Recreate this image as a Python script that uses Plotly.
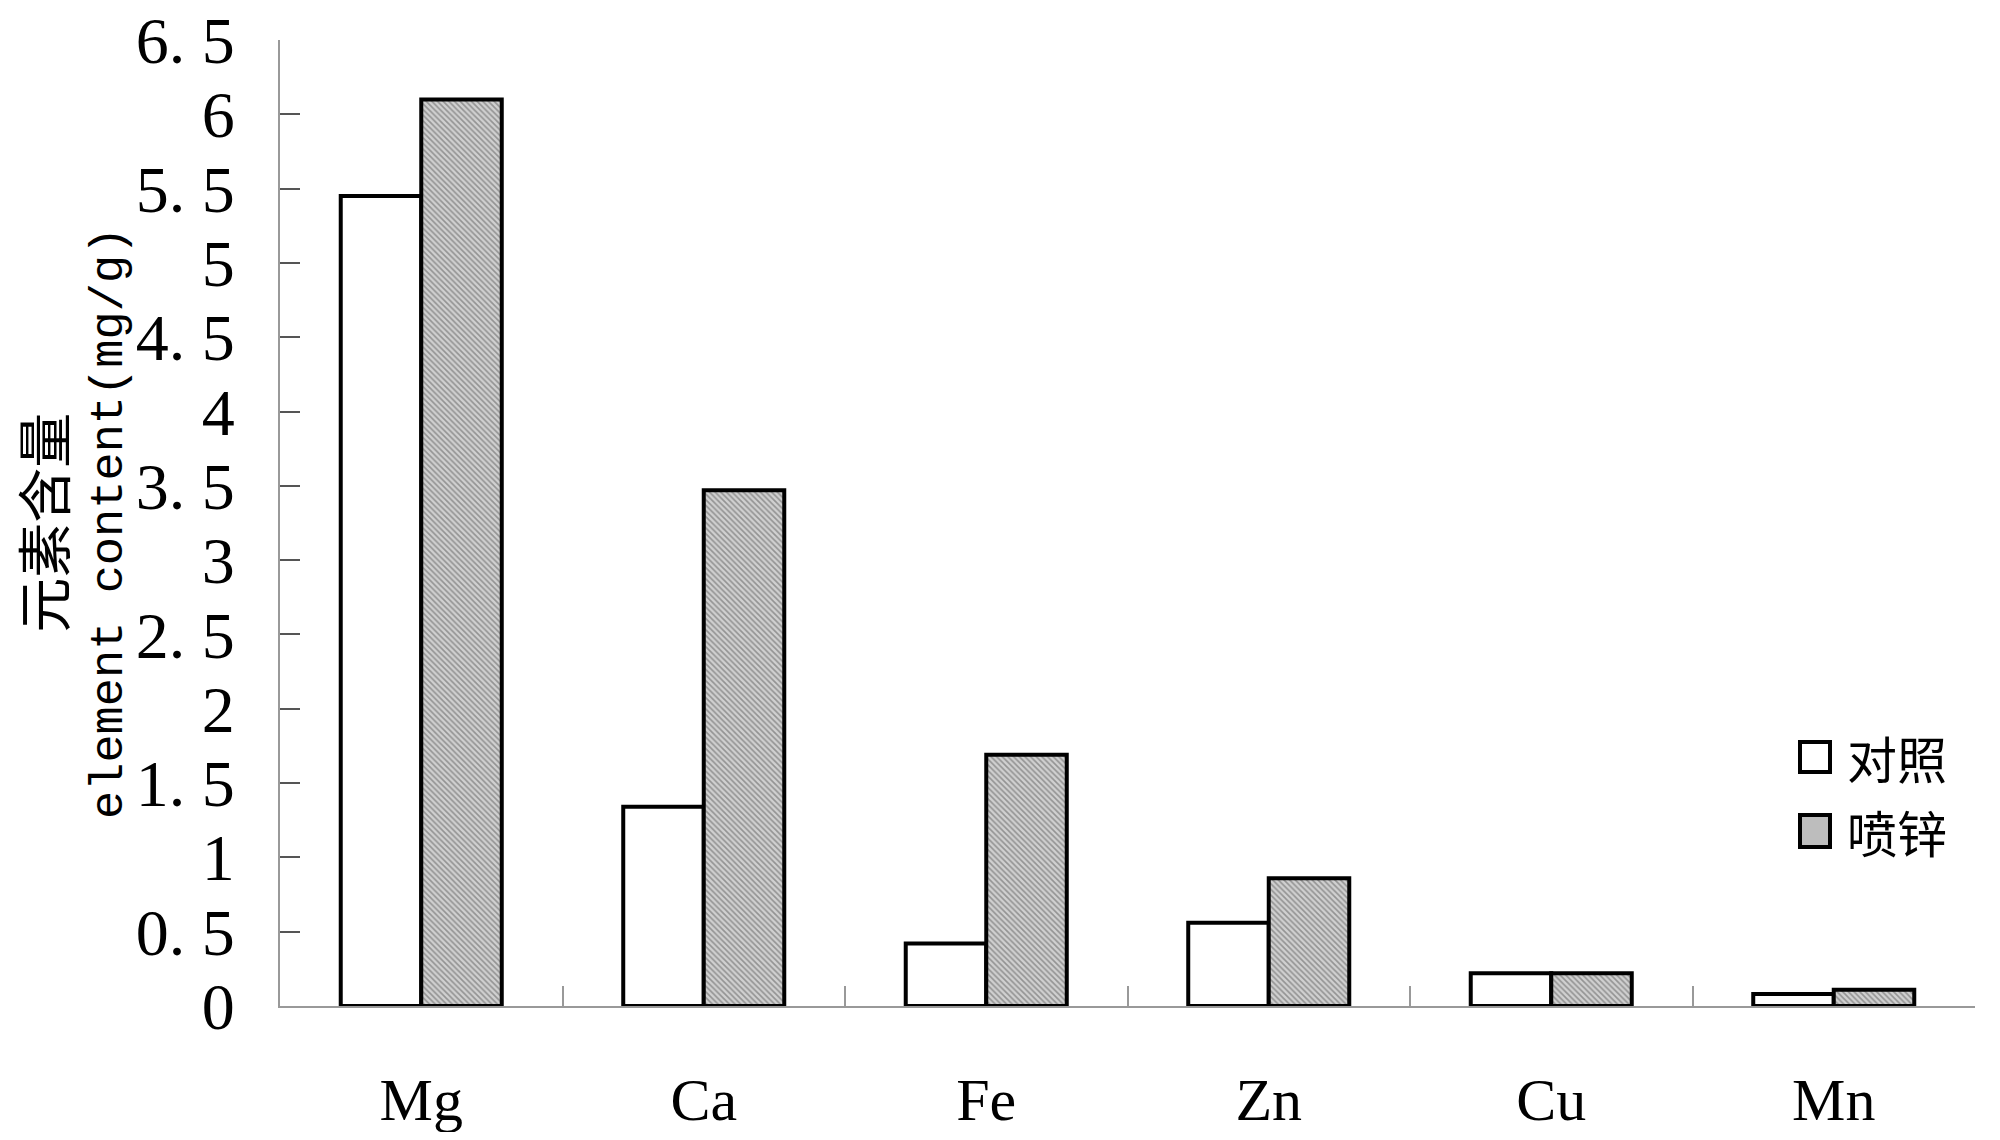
import plotly.graph_objects as go

categories = ["Mg", "Ca", "Fe", "Zn", "Cu", "Mn"]
control = [5.45, 1.34, 0.42, 0.56, 0.22, 0.08]
zinc_spray = [6.10, 3.47, 1.69, 0.86, 0.22, 0.11]
series_names = ["对照", "喷锌"]
y_ticks = [i * 0.5 for i in range(14)]
y_ticktext = ["0", "0. 5", "1", "1. 5", "2", "2. 5", "3", "3. 5", "4", "4. 5", "5", "5. 5", "6", "6. 5"]

# page has an 8px body margin; work in page pixels and convert
OFF = 8
W, H = 2000 - 2 * OFF, 1140 - 2 * OFF
PL, PR, PT, PB = 280, 1975, 40, 1006  # plot area in page pixels
L, R, T, B = PL - OFF, (W + OFF) - PR, PT - OFF, (H + OFF) - PB
pw, ph = PR - PL, PB - PT

def px_x(x):
    return (x - PL) / pw

def px_y(y):
    return (PB - y) / ph

fig = go.Figure()
fig.add_trace(go.Bar(
    x=categories, y=control, name=series_names[0],
    marker=dict(color="white", line=dict(color="black", width=4)),
    showlegend=False,
))
fig.add_trace(go.Bar(
    x=categories, y=zinc_spray, name=series_names[1],
    marker=dict(color="#d0d0d0", line=dict(color="black", width=4),
                pattern=dict(shape="\\", fgcolor="#555555", bgcolor="#d0d0d0",
                             size=4, solidity=0.4)),
    showlegend=False,
))

serif = "Liberation Serif, DejaVu Serif, serif"
cjk = "Noto Sans CJK SC, sans-serif"

fig.update_layout(
    width=W, height=H,
    margin=dict(l=L, r=R, t=T, b=B, autoexpand=False),
    plot_bgcolor="white", paper_bgcolor="white",
    barmode="group", bargap=0.43, bargroupgap=0,
    xaxis=dict(
        showline=True, linecolor="#999999", linewidth=2,
        ticks="inside", ticklen=20, tickcolor="#999999", tickwidth=2,
        tickson="boundaries", showgrid=False,
        tickfont=dict(family=serif, size=60, color="black"),
        ticklabelstandoff=40,
    ),
    yaxis=dict(
        range=[0, 6.5], tickvals=y_ticks, ticktext=y_ticktext,
        showline=True, linecolor="#999999", linewidth=2,
        ticks="inside", ticklen=20, tickcolor="#555555", tickwidth=2,
        showgrid=False, zeroline=False,
        tickfont=dict(family=serif, size=66, color="black"),
        ticklabelstandoff=30, ticklabeloverflow="allow",
    ),
)

fig.add_annotation(
    xref="paper", yref="paper", x=px_x(68), y=0.5,
    xanchor="center", yanchor="middle", textangle=-90, showarrow=False,
    text=("<span style='font-family:Noto Sans CJK SC;font-size:55px'>元素含量</span><br>"
          "<span style='font-family:Liberation Mono;font-size:47px'>element content(mg/g)</span>"),
    font=dict(family=cjk, size=44, color="black"),
)

# legend
legend_rows = [(742, 772, "white"), (815, 847, "#bdbdbd")]
for (y0, y1, col), name in zip(legend_rows, series_names):
    fig.add_shape(type="rect", xref="paper", yref="paper",
                  x0=px_x(1800), x1=px_x(1830), y0=px_y(y1), y1=px_y(y0),
                  line=dict(color="black", width=4), fillcolor=col)
    fig.add_annotation(xref="paper", yref="paper", x=px_x(1845), y=px_y((y0 + y1) / 2),
                       xanchor="left", yanchor="middle", showarrow=False, text=name,
                       font=dict(family=cjk, size=50, color="black"))

fig.write_html("out.html")
